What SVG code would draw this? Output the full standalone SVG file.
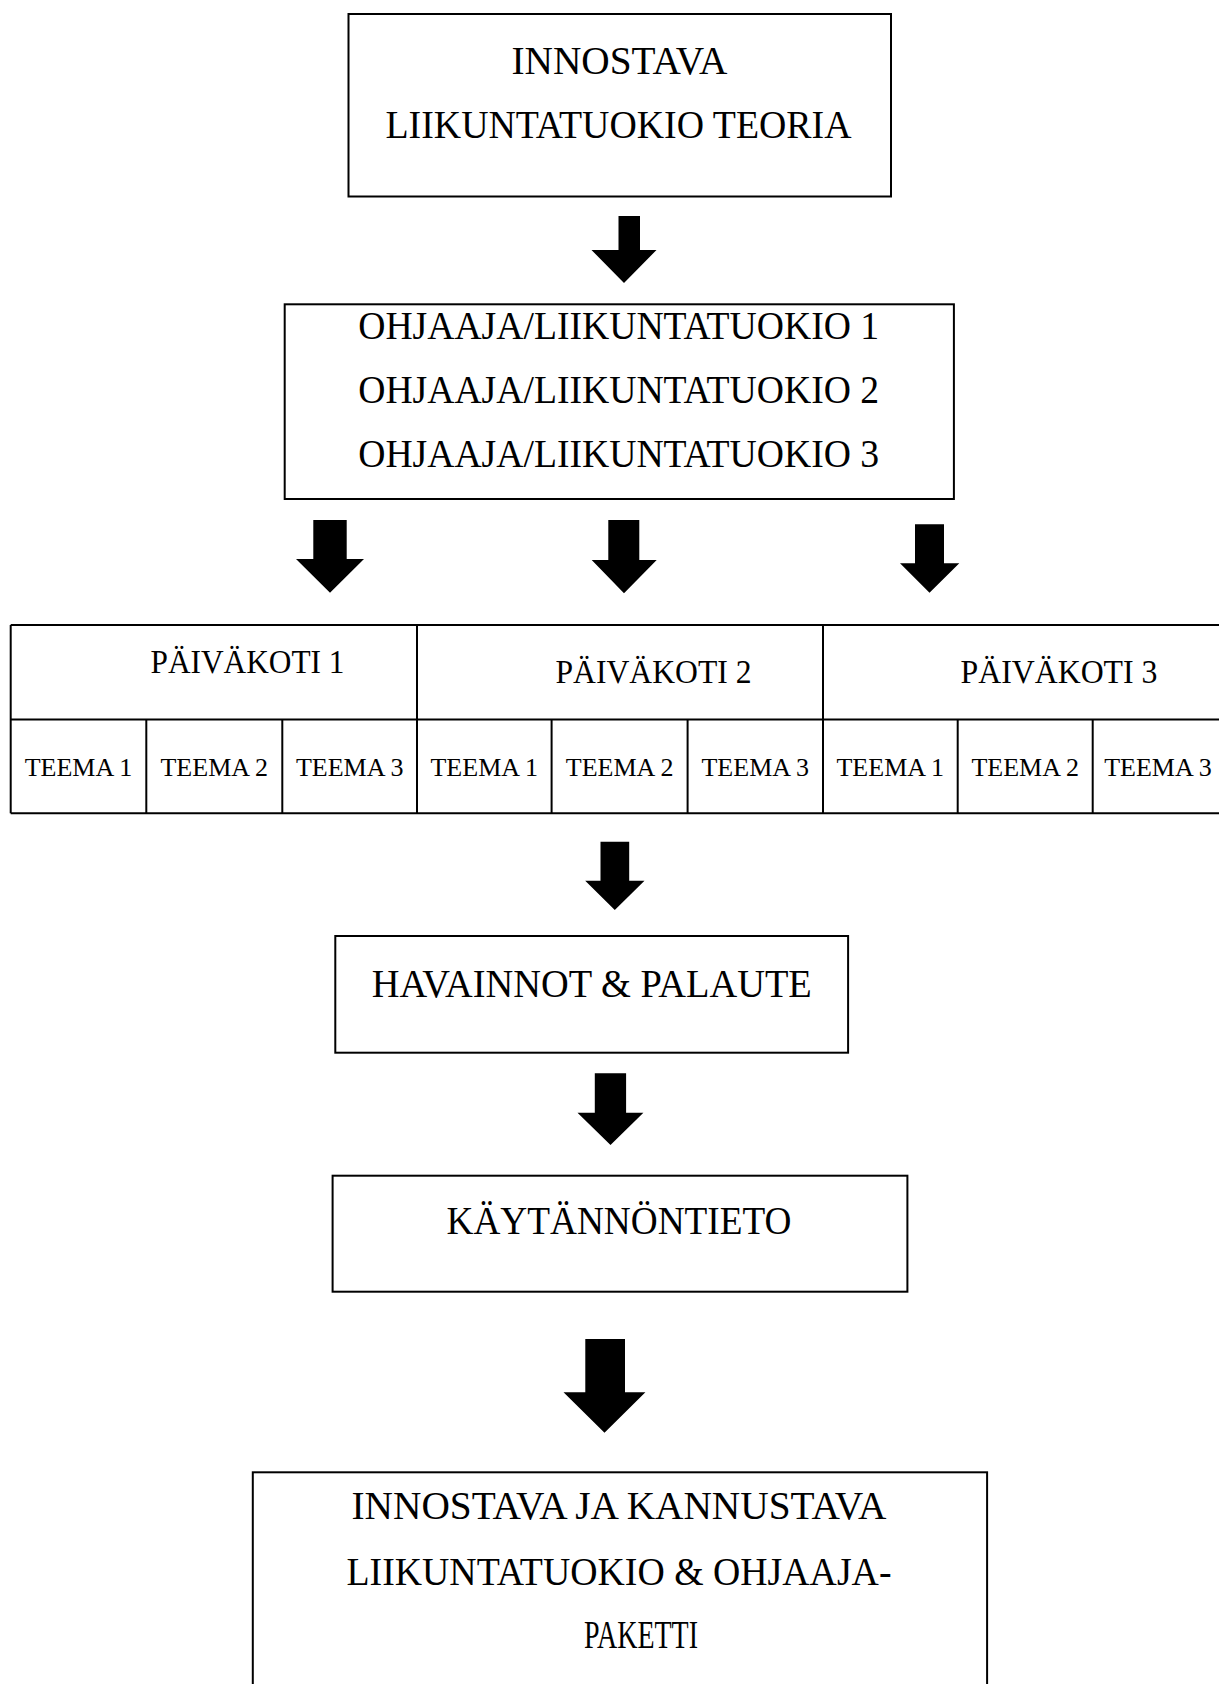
<svg xmlns="http://www.w3.org/2000/svg" width="1219" height="1684" viewBox="0 0 1219 1684">
<style>
.box{fill:#fff;stroke:#000;stroke-width:2}
.ln{stroke:#000;stroke-width:2;fill:none}
.t{font-family:"Liberation Serif","Times New Roman",serif;font-size:39px;fill:#000;text-anchor:middle}
.p{font-family:"Liberation Serif","Times New Roman",serif;font-size:33px;fill:#000}
.s{font-family:"Liberation Serif","Times New Roman",serif;font-size:26px;fill:#000;text-anchor:middle}
.arr{fill:#000;stroke:none}
</style>
<rect x="0" y="0" width="1219" height="1684" fill="#fff"/>

<g id="teoria">
<rect class="box" x="348.5" y="14" width="542.5" height="182.5"/>
<text class="t" x="619.5" y="74" textLength="216" lengthAdjust="spacingAndGlyphs">INNOSTAVA</text>
<text class="t" x="618.5" y="138" textLength="466" lengthAdjust="spacingAndGlyphs">LIIKUNTATUOKIO TEORIA</text>
</g>

<g id="ohjaajat">
<rect class="box" x="284.7" y="304.3" width="669.2" height="194.7"/>
<text class="t" x="618.7" y="339.3" textLength="521" lengthAdjust="spacingAndGlyphs">OHJAAJA/LIIKUNTATUOKIO 1</text>
<text class="t" x="618.7" y="402.7" textLength="521" lengthAdjust="spacingAndGlyphs">OHJAAJA/LIIKUNTATUOKIO 2</text>
<text class="t" x="618.7" y="466.7" textLength="521" lengthAdjust="spacingAndGlyphs">OHJAAJA/LIIKUNTATUOKIO 3</text>
</g>

<g id="paivakodit">
<line class="ln" x1="10.7" y1="625" x2="1230" y2="625"/>
<line class="ln" x1="10.7" y1="719.5" x2="1230" y2="719.5"/>
<line class="ln" x1="10.7" y1="813.3" x2="1230" y2="813.3"/>
<line class="ln" x1="10.7" y1="625" x2="10.7" y2="813.3"/>
<line class="ln" x1="417" y1="625" x2="417" y2="813.3"/>
<line class="ln" x1="823" y1="625" x2="823" y2="813.3"/>
<line class="ln" x1="146.3" y1="719.5" x2="146.3" y2="813.3"/>
<line class="ln" x1="282.3" y1="719.5" x2="282.3" y2="813.3"/>
<line class="ln" x1="551.6" y1="719.5" x2="551.6" y2="813.3"/>
<line class="ln" x1="687.6" y1="719.5" x2="687.6" y2="813.3"/>
<line class="ln" x1="957.7" y1="719.5" x2="957.7" y2="813.3"/>
<line class="ln" x1="1092.7" y1="719.5" x2="1092.7" y2="813.3"/>
<g id="paivakoti1"><text class="p" x="150.5" y="673.3" textLength="194" lengthAdjust="spacingAndGlyphs">PÄIVÄKOTI 1</text></g>
<g id="paivakoti2"><text class="p" x="555.5" y="683" textLength="196" lengthAdjust="spacingAndGlyphs">PÄIVÄKOTI 2</text></g>
<g id="paivakoti3"><text class="p" x="960.5" y="683" textLength="197" lengthAdjust="spacingAndGlyphs">PÄIVÄKOTI 3</text></g>
<g id="teemat">
<text class="s" x="78.5" y="776">TEEMA 1</text>
<text class="s" x="214.3" y="776">TEEMA 2</text>
<text class="s" x="349.7" y="776">TEEMA 3</text>
<text class="s" x="484.3" y="776">TEEMA 1</text>
<text class="s" x="619.6" y="776">TEEMA 2</text>
<text class="s" x="755.3" y="776">TEEMA 3</text>
<text class="s" x="890.3" y="776">TEEMA 1</text>
<text class="s" x="1025.2" y="776">TEEMA 2</text>
<text class="s" x="1158" y="776">TEEMA 3</text>
</g>
</g>

<g id="havainnot">
<rect class="box" x="335.3" y="936" width="512.8" height="116.7"/>
<text class="t" x="591.8" y="996.7" textLength="440" lengthAdjust="spacingAndGlyphs">HAVAINNOT &amp; PALAUTE</text>
</g>

<g id="kaytannontieto">
<rect class="box" x="332.6" y="1175.7" width="574.8" height="116"/>
<text class="t" x="619" y="1234.3" textLength="345" lengthAdjust="spacingAndGlyphs">KÄYTÄNNÖNTIETO</text>
</g>

<g id="paketti">
<rect class="box" x="252.8" y="1472.3" width="734.3" height="240"/>
<text class="t" x="619" y="1518.7" textLength="535" lengthAdjust="spacingAndGlyphs">INNOSTAVA JA KANNUSTAVA</text>
<text class="t" x="619" y="1584.7" textLength="545" lengthAdjust="spacingAndGlyphs">LIIKUNTATUOKIO &amp; OHJAAJA-</text>
<text class="t" x="641" y="1648.3" textLength="114" lengthAdjust="spacingAndGlyphs">PAKETTI</text>
</g>

<g id="connectors">
<polygon class="arr" points="618.5,216 640,216 640,250 656.5,250 624,283 591.5,250 618.5,250"/>
<polygon class="arr" points="313.3,520 346.7,520 346.7,559 364,559 330,592.7 296,559 313.3,559"/>
<polygon class="arr" points="608.3,520 639.3,520 639.3,560 656.7,560 624,593.3 591.7,560 608.3,560"/>
<polygon class="arr" points="915,524.3 944,524.3 944,563.3 959.3,563.3 929.5,592.7 900,563.3 915,563.3"/>
<polygon class="arr" points="600.5,841.7 629.2,841.7 629.2,880.7 644.5,880.7 614.8,910 585.2,880.7 600.5,880.7"/>
<polygon class="arr" points="594.8,1073.3 626.1,1073.3 626.1,1112.7 643.4,1112.7 610.5,1145 577.5,1112.7 594.8,1112.7"/>
<polygon class="arr" points="585.3,1339 625,1339 625,1392.3 645.4,1392.3 604.5,1432.7 563.5,1392.3 585.3,1392.3"/>
</g>
</svg>
